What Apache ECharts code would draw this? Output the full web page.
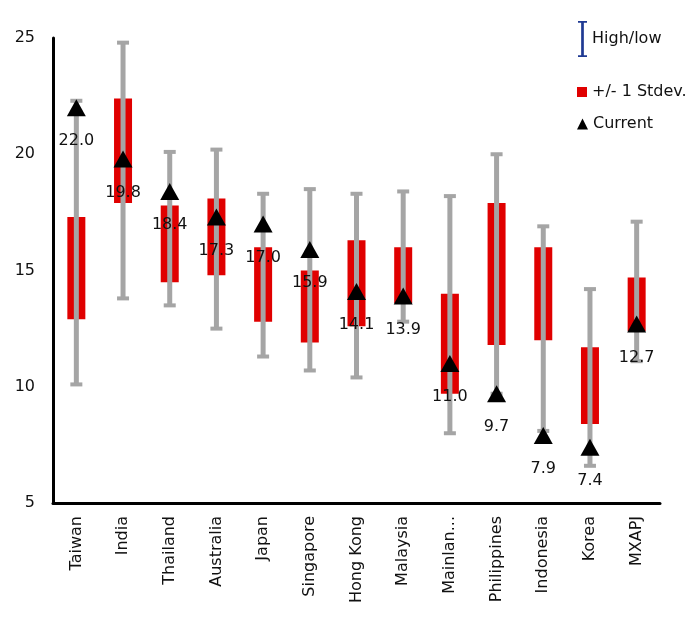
<!DOCTYPE html>
<html>
<head>
<meta charset="utf-8">
<script src="https://cdn.jsdelivr.net/npm/echarts@6/dist/echarts.min.js"></script>
<style>
  html, body { margin: 0; padding: 0; background: #fff; }
  #chart { width: 694px; height: 622px; }
</style>
</head>
<body>
<div id="chart"></div>
<script>
var categories = ['Taiwan', 'India', 'Thailand', 'Australia', 'Japan', 'Singapore',
  'Hong Kong', 'Malaysia', 'Mainlan...', 'Philippines', 'Indonesia', 'Korea', 'MXAPJ'];
var highs   = [22.3, 24.8, 20.1, 20.2, 18.3, 18.5, 18.3, 18.4, 18.2, 20.0, 16.9, 14.2, 17.1];
var lows    = [10.1, 13.8, 13.5, 12.5, 11.3, 10.7, 10.4, 12.8,  8.0,  9.7,  8.1,  6.6, 11.1];
var sdTop   = [17.3, 22.4, 17.8, 18.1, 16.0, 15.0, 16.3, 16.0, 14.0, 17.9, 16.0, 11.7, 14.7];
var sdBot   = [12.9, 17.9, 14.5, 14.8, 12.8, 11.9, 12.6, 13.6,  9.7, 11.8, 12.0,  8.4, 12.4];
var current = [22.0, 19.8, 18.4, 17.3, 17.0, 15.9, 14.1, 13.9, 11.0,  9.7,  7.9,  7.4, 12.7];
var yTicks  = [5, 25, 5]; // min, max, interval

var chart = echarts.init(document.getElementById('chart'));

var hlData = categories.map(function (c, i) { return [i, highs[i], lows[i]]; });
var sdData = categories.map(function (c, i) { return [i, sdTop[i], sdBot[i]]; });

var grey = '#a5a5a5';
var red = '#e00000';
var font = 'DejaVu Sans, sans-serif';

function renderHighLow(params, api) {
  var x = api.value(0);
  var hi = api.coord([x, api.value(1)]);
  var lo = api.coord([x, api.value(2)]);
  var capW = 12;
  return {
    type: 'group',
    children: [
      { type: 'line', shape: { x1: hi[0], y1: hi[1], x2: lo[0], y2: lo[1] },
        style: { stroke: grey, lineWidth: 5 } },
      { type: 'rect', shape: { x: hi[0] - capW / 2, y: hi[1] - 2, width: capW, height: 4 },
        style: { fill: grey } },
      { type: 'rect', shape: { x: lo[0] - capW / 2, y: lo[1] - 2, width: capW, height: 4 },
        style: { fill: grey } }
    ]
  };
}

function renderStdev(params, api) {
  var x = api.value(0);
  var top = api.coord([x, api.value(1)]);
  var bot = api.coord([x, api.value(2)]);
  var w = 18;
  return {
    type: 'rect',
    shape: { x: top[0] - w / 2, y: top[1], width: w, height: bot[1] - top[1] },
    style: { fill: red }
  };
}

var legendText = { fontSize: 16, color: '#111', fontFamily: font };

var option = {
  animation: false,
  textStyle: { fontFamily: font },
  grid: { left: 53, right: 34, top: 38, bottom: 119 },
  legend: [
    {
      left: 573, top: 16, itemWidth: 9, itemHeight: 42, itemGap: 14,
      selectedMode: false, textStyle: legendText,
      data: [{ name: 'High/low',
        icon: 'path://M0,0 H10 V2 H6.5 V38 H10 V40 H0 V38 H3.5 V2 H0 Z',
        itemStyle: { color: '#1f3a93' } }]
    },
    {
      left: 572, top: 79, itemWidth: 10, itemHeight: 10, itemGap: 5,
      selectedMode: false, textStyle: legendText,
      data: [{ name: '+/- 1 Stdev.', icon: 'rect' }]
    },
    {
      left: 572, top: 111, itemWidth: 11, itemHeight: 11, itemGap: 5,
      selectedMode: false, textStyle: legendText,
      data: [{ name: 'Current', icon: 'triangle' }]
    }
  ],
  xAxis: {
    type: 'category',
    data: categories,
    axisLine: { lineStyle: { color: '#000', width: 3 } },
    axisTick: { show: false },
    axisLabel: { rotate: 90, margin: 13, fontSize: 16, color: '#111', interval: 0 }
  },
  yAxis: {
    type: 'value',
    min: yTicks[0], max: yTicks[1], interval: yTicks[2],
    axisLine: { show: true, lineStyle: { color: '#000', width: 3 } },
    axisTick: { show: false },
    splitLine: { show: false },
    axisLabel: { fontSize: 16, color: '#111', margin: 18 }
  },
  series: [
    {
      name: '+/- 1 Stdev.',
      type: 'custom',
      renderItem: renderStdev,
      itemStyle: { color: red },
      encode: { x: 0, y: [1, 2] },
      data: sdData
    },
    {
      name: 'High/low',
      type: 'custom',
      renderItem: renderHighLow,
      itemStyle: { color: grey },
      encode: { x: 0, y: [1, 2] },
      data: hlData
    },
    {
      name: 'Current',
      type: 'scatter',
      symbol: 'triangle',
      symbolSize: [19, 17],
      itemStyle: { color: '#000', opacity: 1 },
      label: {
        show: true, position: 'bottom', distance: 17,
        fontSize: 16, color: '#111',
        formatter: function (p) { return p.value.toFixed(1); }
      },
      data: current
    }
  ]
};

chart.setOption(option);
</script>
</body>
</html>
